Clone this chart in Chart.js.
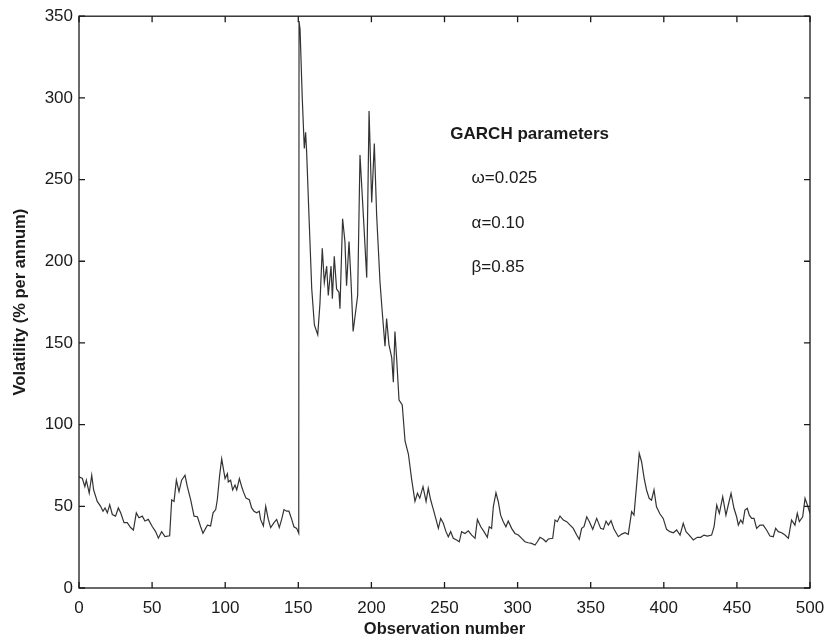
<!DOCTYPE html>
<html>
<head>
<meta charset="utf-8">
<script src="https://cdn.jsdelivr.net/npm/chart.js@4.4.1/dist/chart.umd.min.js"></script>
<style>
  html, body { margin: 0; padding: 0; background: #fff; }
  #wrap { width: 825px; height: 640px; }
</style>
</head>
<body>
<div id="wrap"><canvas id="volChart" width="825" height="640"></canvas></div>
<script>
// observation number and volatility (% per annum)
const obs = [
  0, 2.3, 4, 5, 7, 8.7, 10, 12.5, 14.8, 16.4, 17.8, 19.4, 21, 22.8, 25, 26.9, 28.5, 30.8, 33, 35.3,
  37.2, 39.2, 41, 43.3, 45.1, 47.4, 50.2, 52.4, 54.3, 56.5, 58.8, 62, 63.4, 65, 66.6, 68.4, 70.2, 72.5, 74.1, 76.4,
  78.7, 81, 83.2, 84.8, 87.8, 90, 91.7, 93.5, 94.6, 96.2, 97.6, 99.9, 101.5, 102.1, 103.7, 105.1, 106.7, 107.9, 109.7, 111.3,
  112.4, 114.2, 116.5, 118.1, 119.7, 121.5, 123.3, 124.2, 126.1, 127.7, 129.5, 131.1, 133.4, 135.2, 137, 138.6, 140.2, 142, 143.6, 145.5,
  147, 148.9, 150.3, 150.5, 151.2, 152.7, 154.1, 155, 155.7, 157.3, 159.2, 161, 163.3, 164.8, 166.4, 167.8, 169.4, 170.5, 172.4, 173.3,
  174.6, 176.2, 177.8, 178.5, 180.3, 181.9, 183, 184.7, 186, 187.5, 190.6, 192.2, 194.5, 196.8, 198.4, 200.2, 202, 203.6, 205.9, 207.5,
  209.3, 210.4, 212, 213.9, 215, 216.1, 217.3, 218.9, 221.1, 223, 225.3, 227.6, 229.8, 231.5, 233.1, 235.3, 237.4, 238.9, 240.5, 242.4,
  244.2, 245.8, 247.4, 249.2, 251, 252.6, 254.2, 256, 258.3, 260.1, 261.7, 264, 266.3, 268.6, 270.9, 272.5, 274.8, 277, 279.3, 280.6,
  282.2, 283.4, 285.2, 286.8, 288.4, 290.2, 292, 293.6, 295.9, 298.2, 300.5, 302.8, 305, 307.3, 309.6, 311.9, 313.5, 315.3, 317.6, 319.4,
  321, 324, 325.6, 327.2, 329, 331.3, 333.6, 335.9, 338.1, 340.4, 342.2, 343.8, 345.4, 347.3, 349.1, 351.4, 354.1, 356.8, 358.7, 360.5,
  362.1, 363.9, 366, 368.9, 371.2, 373.5, 375.7, 378, 379.6, 381.4, 383.2, 384.8, 386.6, 388.2, 390, 391.6, 393.3, 395, 397.4, 399.6,
  401.9, 404.2, 406.5, 408.8, 411.1, 413.3, 415.2, 417.4, 420.2, 422.9, 425.2, 427.5, 429.8, 432.7, 434.4, 436.2, 438, 440.3, 442.5, 444.1,
  446, 448, 449.8, 451, 452.6, 454, 455.5, 457.1, 458.5, 460.1, 461.7, 463.5, 465.8, 468, 470.3, 472.6, 474.9, 476.5, 478.3, 480.6,
  482.9, 485.2, 487.4, 489.7, 491.3, 492.7, 495, 496.6, 498.2, 500
];
const vol = [
  68, 67, 62, 66, 58, 69, 60, 53, 50, 47, 49, 46, 51, 45, 44, 49, 46, 40, 40, 37,
  35.5, 46, 43, 44, 41, 42, 37.5, 34.5, 30.5, 34.5, 31.5, 32, 54, 53, 66, 59, 66, 69, 62, 54,
  44, 43.6, 37.5, 33.5, 38.5, 38, 46, 48, 54, 69, 79, 67, 70, 65, 66, 60, 63, 60, 67, 62,
  59, 55, 54, 49, 47, 46, 47, 42, 38, 50, 42, 37, 40, 42, 37, 42, 48, 47, 47, 42,
  37.5, 36.5, 33.5, 347, 342, 300, 269, 279, 267, 228, 183, 161, 155, 174, 208, 187, 197, 179, 197, 177,
  203, 183, 181, 171, 226, 212, 185, 212, 189, 157, 179, 265, 228, 190, 292, 236, 272, 228, 187, 168,
  148, 165, 149, 141, 126, 157, 140, 115, 112, 90, 82, 66, 53, 58, 55, 62, 53, 61, 54, 48,
  42, 36.5, 42.6, 39.6, 34.5, 31.4, 34.5, 30.4, 29.4, 28.3, 34.5, 33.4, 35, 32.4, 30.4, 42, 37.5, 34.5, 31, 37.5,
  36.5, 49.7, 58.3, 52.8, 44.6, 40.6, 37.5, 41, 36.5, 33.4, 32.4, 30.4, 28.3, 27.7, 27.3, 26.3, 28.3, 31, 29.8, 28.3,
  30, 30.4, 41.6, 40.6, 44, 41.6, 40.6, 38.5, 36.5, 32.4, 29.8, 36.5, 37.5, 43.6, 40.6, 35.9, 42.6, 36.5, 35.9, 40.9,
  38.5, 41.2, 35.9, 31.4, 33, 33.8, 32.8, 46.7, 44.6, 63, 82.4, 77.3, 67, 60, 54.9, 53.8, 60, 49.7, 45.3, 42.6,
  35.9, 34.5, 33.8, 35.5, 32.4, 39.6, 34.5, 32.4, 29.4, 31, 31, 32.4, 31.8, 32.4, 37.5, 50.8, 45.7, 55.9, 44.6, 50.8,
  58, 48.8, 43.6, 38.5, 41.6, 39.6, 47.7, 48.8, 44.6, 42.6, 42.6, 36.5, 38.5, 38.5, 35.5, 31.8, 31.4, 36.5, 34.5, 33.8,
  32.4, 30.4, 41.6, 38.5, 45.7, 40.6, 43.6, 54.9, 50.8, 45.7
];
const xTicks = [0, 50, 100, 150, 200, 250, 300, 350, 400, 450, 500];
const yTicks = [0, 50, 100, 150, 200, 250, 300, 350];
const noteTitle = "GARCH parameters";
const noteLines = ["\u03c9=0.025", "\u03b1=0.10", "\u03b2=0.85"];

const fontFamily = "'Liberation Sans', Arial, Helvetica, sans-serif";
const ink = "#1a1a1a";

// box around the plot with tick marks pointing inward on all four sides
const framePlugin = {
  id: "frame",
  afterDraw(chart) {
    const { ctx, chartArea: a, scales } = chart;
    const len = 6;
    ctx.save();
    ctx.strokeStyle = ink;
    ctx.lineWidth = 1.3;
    ctx.strokeRect(a.left, a.top, a.right - a.left, a.bottom - a.top);
    ctx.beginPath();
    xTicks.forEach(v => {
      const px = scales.x.getPixelForValue(v);
      ctx.moveTo(px, a.bottom); ctx.lineTo(px, a.bottom - len);
      ctx.moveTo(px, a.top); ctx.lineTo(px, a.top + len);
    });
    yTicks.forEach(v => {
      const py = scales.y.getPixelForValue(v);
      ctx.moveTo(a.left, py); ctx.lineTo(a.left + len, py);
      ctx.moveTo(a.right, py); ctx.lineTo(a.right - len, py);
    });
    ctx.stroke();

    // parameter note, placed in data coordinates
    const nx = scales.x.getPixelForValue(254);
    ctx.fillStyle = ink;
    ctx.textBaseline = "middle";
    ctx.font = "bold 17px " + fontFamily;
    ctx.fillText(noteTitle, nx, scales.y.getPixelForValue(277.5));
    ctx.font = "17px " + fontFamily;
    const lx = scales.x.getPixelForValue(268.5);
    const lineVals = [251, 223.5, 196];
    noteLines.forEach((t, i) => ctx.fillText(t, lx, scales.y.getPixelForValue(lineVals[i])));
    ctx.restore();
  }
};

const ctx = document.getElementById("volChart").getContext("2d");
new Chart(ctx, {
  type: "line",
  data: {
    datasets: [{
      data: obs.map((o, i) => ({ x: o, y: vol[i] })),
      borderColor: "#333333",
      borderWidth: 1.2,
      pointRadius: 0,
      tension: 0,
      fill: false
    }]
  },
  options: {
    responsive: false,
    animation: false,
    layout: { padding: { top: 16, right: 15, left: 0, bottom: 0 } },
    plugins: { legend: { display: false }, tooltip: { enabled: false } },
    scales: {
      x: {
        type: "linear",
        min: 0, max: 500,
        afterBuildTicks: s => { s.ticks = xTicks.map(v => ({ value: v })); },
        afterFit: s => { s.height = 52; s.paddingLeft = 0; s.paddingRight = 0; },
        grid: { display: false, drawTicks: false },
        border: { display: false },
        ticks: { color: ink, font: { size: 17, family: fontFamily }, padding: 10, maxRotation: 0 },
        title: {
          display: true, text: "Observation number", color: ink,
          font: { size: 16.5, weight: "bold", family: fontFamily }, padding: { top: 0, bottom: 1 }
        }
      },
      y: {
        min: 0, max: 350,
        afterBuildTicks: s => { s.ticks = yTicks.map(v => ({ value: v })); },
        afterFit: s => { s.width = 79; },
        grid: { display: false, drawTicks: false },
        border: { display: false },
        ticks: { color: ink, font: { size: 17, family: fontFamily }, padding: 6 },
        title: {
          display: true, text: "Volatility (% per annum)", color: ink,
          font: { size: 16.5, weight: "bold", family: fontFamily }, padding: { top: 11, bottom: 0 }
        }
      }
    }
  },
  plugins: [framePlugin]
});
</script>
</body>
</html>
